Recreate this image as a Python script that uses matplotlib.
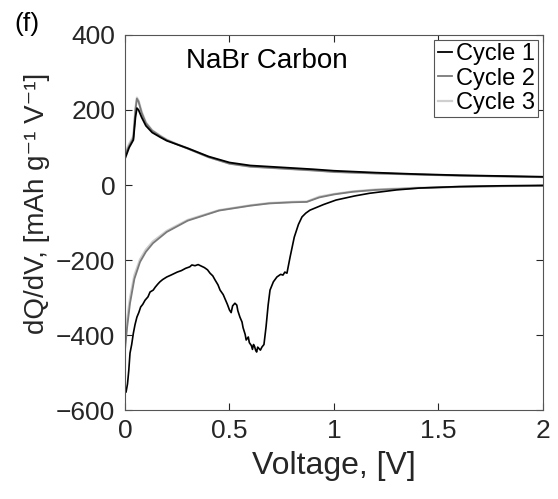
import numpy as np
import matplotlib.pyplot as plt

plt.rcParams['font.family'] = ['Liberation Sans', 'DejaVu Sans']

# charge (positive) branches
v_chg = [0.0, 0.02, 0.04, 0.05, 0.057, 0.065, 0.08, 0.1, 0.13, 0.17, 0.2, 0.25, 0.3, 0.4, 0.5,
         0.6, 0.75, 0.9, 1.0, 1.2, 1.4, 1.6, 1.8, 2.0]
chg1 = [70, 100, 120, 180, 205, 200, 180, 158, 140, 127, 118, 108, 98, 76, 60,
        52, 47, 42, 38, 33, 29, 26, 24, 22]
chg2 = [80, 105, 125, 200, 230, 222, 192, 165, 145, 130, 120, 108, 97, 74, 57,
        49, 44, 39, 35, 31, 28, 25, 23, 21]
chg3 = [85, 110, 130, 205, 233, 225, 195, 167, 146, 131, 121, 109, 98, 75, 57,
        49, 44, 39, 35, 31, 28, 25, 23, 21]

# discharge (negative) branches
v_dis1 = [0.0, 0.005, 0.012, 0.018, 0.024, 0.032, 0.04, 0.048, 0.057, 0.066, 0.075, 0.085,
          0.096, 0.11, 0.12, 0.135, 0.145, 0.157, 0.167, 0.18, 0.2, 0.22, 0.25, 0.27,
          0.29, 0.31, 0.32, 0.335, 0.35, 0.365, 0.38, 0.395, 0.407, 0.42, 0.43, 0.445,
          0.455, 0.47, 0.48, 0.49, 0.50, 0.508, 0.515, 0.526, 0.535, 0.54, 0.55,
          0.56, 0.565, 0.575, 0.58, 0.59, 0.595, 0.605, 0.61, 0.615, 0.62, 0.625, 0.63,
          0.635, 0.64, 0.648, 0.655, 0.665, 0.675, 0.685, 0.694, 0.71,
          0.727, 0.745, 0.756, 0.765, 0.775, 0.79, 0.81, 0.83, 0.847, 0.865, 0.885, 0.95,
          1.01, 1.1, 1.17, 1.3, 1.41, 1.6, 1.8, 2.0]
dis1 = [-540, -552, -530, -495, -448, -425, -395, -372, -352, -340, -325, -318,
        -307, -298, -285, -280, -272, -264, -258, -252, -245, -240, -232, -228,
        -222, -218, -213, -215, -212, -216, -220, -226, -235, -242, -252, -266,
        -280, -292, -305, -318, -333, -340, -322, -315, -320, -335, -352,
        -365, -380, -398, -413, -405, -420, -428, -438, -425, -430, -440, -445,
        -432, -435, -440, -432, -425, -378, -320, -280, -258,
        -245, -238, -240, -232, -235, -192, -139, -105, -85, -75, -67, -52,
        -40, -29, -22, -13, -8, -4, -2, -1]
v_dis = [0.0, 0.01, 0.024, 0.045, 0.072, 0.1, 0.134, 0.2, 0.3, 0.45, 0.6, 0.69, 0.8, 0.87,
         0.93, 1.0, 1.09, 1.2, 1.41, 1.6, 1.8, 2.0]
dis2 = [-440, -380, -315, -250, -205, -178, -155, -125, -95, -68, -55, -49, -46, -45,
        -33, -25, -18, -13, -8, -5, -3, -2]
dis3 = [-420, -360, -300, -240, -198, -172, -150, -122, -93, -67, -54, -48, -45, -44,
        -31, -24, -17, -12, -7, -5, -3, -2]

x_ticks = [0, 0.5, 1, 1.5, 2]
x_labels = ['0', '0.5', '1', '1.5', '2']
y_ticks = [-600, -400, -200, 0, 200, 400]
y_labels = ['\u2212600', '\u2212400', '\u2212200', '0', '200', '400']

c1, c2, c3 = 'black', '#7a7a7a', '#cfcfcf'
txt = '#262626'

fig = plt.figure(figsize=(5.58, 4.99), dpi=100)
ax = fig.add_axes([0.224, 0.178, 0.749, 0.752])

ax.plot(v_chg, chg3, color=c3, lw=1.6, label='Cycle 3')
ax.plot(v_dis, dis3, color=c3, lw=1.6)
ax.plot(v_chg, chg2, color=c2, lw=1.3, label='Cycle 2')
ax.plot(v_dis, dis2, color=c2, lw=1.3)
ax.plot(v_chg, chg1, color=c1, lw=1.3, label='Cycle 1')
ax.plot(v_dis1, dis1, color=c1, lw=1.2)

ax.set_xlim(0, 2)
ax.set_ylim(-600, 400)
ax.set_xticks(x_ticks)
ax.set_xticklabels(x_labels)
ax.set_yticks(y_ticks)
ax.set_yticklabels(y_labels)
ax.tick_params(direction='in', top=True, right=True, labelsize=19, colors=txt,
               length=5, width=0.8)
ax.tick_params(axis='x', pad=6)
ax.tick_params(axis='y', pad=7)
for s in ax.spines.values():
    s.set_color('#555555')
    s.set_linewidth(0.8)

ax.set_xlabel('Voltage, [V]', fontsize=23, color=txt, labelpad=6)
ax.set_ylabel('dQ/dV, [mAh g\u207b\u00b9 V\u207b\u00b9]', fontsize=20, color=txt)
ax.yaxis.set_label_coords(-0.18, 0.55)
ax.text(0.145, 0.965, 'NaBr Carbon', transform=ax.transAxes, fontsize=20, va='top')
fig.text(0.025, 0.975, '(f)', fontsize=19, va='top')

h, l = ax.get_legend_handles_labels()
leg = ax.legend(h[::-1], l[::-1], loc='upper right', fontsize=17, handlelength=0.6,
                handletextpad=0.15, borderpad=0.15, labelspacing=0.1, borderaxespad=0.2,
                fancybox=False, edgecolor='#555555', framealpha=1)
leg.get_frame().set_linewidth(0.8)

fig.savefig('out.png', dpi=100)
